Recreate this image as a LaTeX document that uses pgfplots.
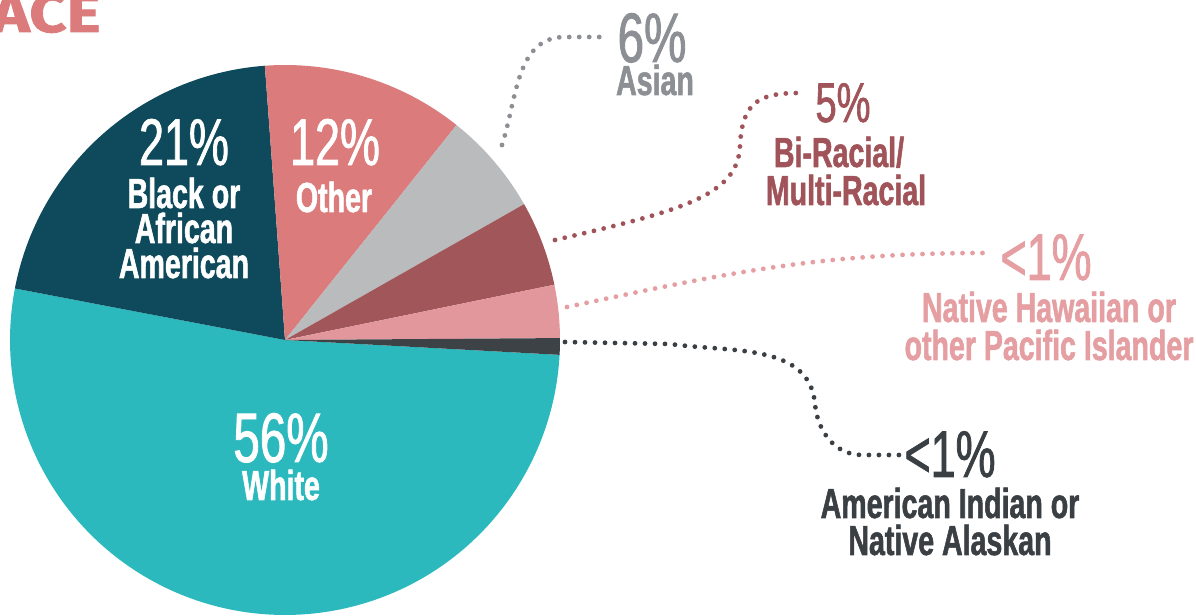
\documentclass[border=0pt]{standalone}
\usepackage{pgfplots}
\pgfplotsset{compat=1.18}
\usepackage{fontspec}
\setmainfont{Liberation Sans}[FakeStretch=0.68, BoldFeatures={FakeBold=1.3}]
\newfontfamily\titlefont{Fira Sans}[FakeStretch=1.2, FakeBold=1.5]
\newfontfamily\numfont{Liberation Sans}[FakeStretch=0.68, FakeBold=1.2]
\definecolor{cWhite}{HTML}{2BB9BD}
\definecolor{cBlack}{HTML}{0E4A5B}
\definecolor{cOther}{HTML}{DB7B7B}
\definecolor{cAsian}{HTML}{B9BBBC}
\definecolor{cBi}{HTML}{A1575A}
\definecolor{cNH}{HTML}{E1979B}
\definecolor{cAI}{HTML}{3D4247}
\definecolor{tAsian}{HTML}{8C8F93}
\definecolor{tBi}{HTML}{A0545A}
\definecolor{tNH}{HTML}{E59FA2}
\definecolor{tAI}{HTML}{3A3F44}
\tikzset{
  lbl/.style={anchor=base, inner sep=0pt, align=center, font=\fontsize{21}{21}\selectfont\bfseries},
  num/.style={anchor=base, inner sep=0pt, text depth=0pt, font=\numfont\fontsize{33}{33}\selectfont},
  dots/.style={line width=2.4pt, line cap=round, dash pattern=on 0pt off 5pt},
}
\begin{document}
\begin{tikzpicture}
\begin{axis}[
  at={(0,0)}, anchor=south west,
  scale only axis, width=598pt, height=308pt,
  xmin=0, xmax=1196, ymin=0, ymax=616,
  hide axis, clip=false,
]
% pie slices: start and end angles (degrees) of each share
% White 56%
\addplot[fill=cWhite, draw=none, domain=-190.8:-3.1, samples=120, variable=\t] ({285+275*cos(t)},{276+275*sin(t)}) -- (285,276) -- cycle;
% Black or African American 21%
\addplot[fill=cBlack, draw=none, domain=94.2:169.2, samples=60, variable=\t] ({285+275*cos(t)},{276+275*sin(t)}) -- (285,276) -- cycle;
% Other 12%
\addplot[fill=cOther, draw=none, domain=51.4:94.2, samples=40, variable=\t] ({285+275*cos(t)},{276+275*sin(t)}) -- (285,276) -- cycle;
% Asian 6%
\addplot[fill=cAsian, draw=none, domain=29.6:51.4, samples=25, variable=\t] ({285+275*cos(t)},{276+275*sin(t)}) -- (285,276) -- cycle;
% Bi-Racial 5%
\addplot[fill=cBi, draw=none, domain=11.6:29.6, samples=20, variable=\t] ({285+275*cos(t)},{276+275*sin(t)}) -- (285,276) -- cycle;
% Native Hawaiian <1%
\addplot[fill=cNH, draw=none, domain=0.4:11.6, samples=15, variable=\t] ({285+275*cos(t)},{276+275*sin(t)}) -- (285,276) -- cycle;
% American Indian <1%
\addplot[fill=cAI, draw=none, domain=-3.1:0.4, samples=6, variable=\t] ({285+275*cos(t)},{276+275*sin(t)}) -- (285,276) -- cycle;

% title (cut off at the edges, as in the reference)
\node[anchor=base east, inner sep=0pt, text=cOther, font=\titlefont\fontsize{27}{27}\selectfont\bfseries] at (101,584) {RACE};

% inside labels
\node[num, text=white] at (184,451) {21\%};
\node[lbl, text=white] at (184,408) {Black or};
\node[lbl, text=white] at (184,373) {African};
\node[lbl, text=white] at (184,338) {American};
\node[num, text=white] at (335,451) {12\%};
\node[lbl, text=white] at (334,404) {Other};
\node[num, text=white, font=\numfont\fontsize{35}{35}\selectfont] at (281,154) {56\%};
\node[lbl, text=white] at (281,116) {White};

% leaders
\draw[dots, tAsian] (502,471) to[out=72,in=180] (565,579) -- (608,579);
\draw[dots, tBi] (555,376) .. controls (680,405) and (738,420) .. (740,470) .. controls (742,515) and (760,523) .. (800,523);
\draw[dots, tNH] (567,309) to[out=12,in=180] (985,363);
\draw[dots, tAI] (565,274) -- (670,272) to[out=-8,in=95] (815,212) to[out=-85,in=180] (862,161) -- (900,161);

% outside labels
\node[num, text=tAsian, font=\numfont\fontsize{35}{35}\selectfont] at (652,554) {6\%};
\node[lbl, text=tAsian] at (655,521) {Asian};
\node[num, text=tBi, font=\numfont\fontsize{28}{28}\selectfont] at (843,494) {5\%};
\node[lbl, text=tBi] at (839,449) {Bi-Racial/};
\node[lbl, text=tBi] at (846,411) {Multi-Racial};
\node[num, text=tNH] at (1046,336) {<1\%};
\node[lbl, text=tNH] at (1049,294) {Native Hawaiian or};
\node[lbl, text=tNH] at (1049,256) {other Pacific Islander};
\node[num, text=tAI] at (950,139) {<1\%};
\node[lbl, text=tAI] at (950,98) {American Indian or};
\node[lbl, text=tAI] at (950,61) {Native Alaskan};
\end{axis}
\pgfresetboundingbox
\useasboundingbox (0,0) rectangle (598pt,308pt);
\end{tikzpicture}
\end{document}
